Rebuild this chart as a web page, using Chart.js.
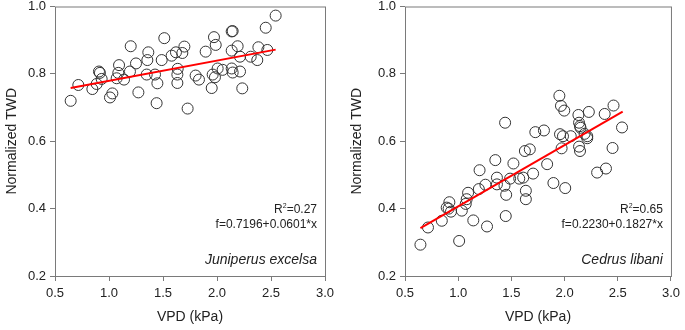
<!DOCTYPE html>
<html>
<head>
<meta charset="utf-8">
<script src="https://cdn.jsdelivr.net/npm/chart.js@4.4.1/dist/chart.umd.min.js"></script>
<style>
  body { margin: 0; background: #fff; }
  .panel { position: absolute; top: 0; height: 330px; }
  #left-panel { left: 0; width: 345px; }
  #right-panel { left: 345px; width: 340px; }
</style>
</head>
<body>
<div class="panel" id="left-panel"><canvas id="juniperus-chart"></canvas></div>
<div class="panel" id="right-panel"><canvas id="cedrus-chart"></canvas></div>
<script>
// axis ticks
const xTicks = [0.5, 1.0, 1.5, 2.0, 2.5, 3.0];
const yTicks = [0.2, 0.4, 0.6, 0.8, 1.0];

// Juniperus excelsa (VPD kPa, normalized TWD)
const juniperusVpd = [0.645, 0.716, 0.846, 0.886, 0.907, 0.916, 0.932, 1.009, 1.031, 1.071, 1.086, 1.093, 1.139, 1.194, 1.201, 1.250, 1.272, 1.355, 1.364, 1.349, 1.426, 1.448, 1.441, 1.488, 1.512, 1.580, 1.620, 1.636, 1.633, 1.633, 1.679, 1.698, 1.728, 1.802, 1.833, 1.895, 1.951, 1.960, 1.972, 1.988, 1.981, 2.006, 2.052, 2.136, 2.145, 2.136, 2.136, 2.145, 2.191, 2.213, 2.213, 2.234, 2.312, 2.373, 2.383, 2.451, 2.466, 2.543];
const juniperusTwd = [0.720, 0.767, 0.755, 0.770, 0.807, 0.803, 0.785, 0.730, 0.742, 0.787, 0.803, 0.826, 0.783, 0.807, 0.882, 0.831, 0.745, 0.841, 0.864, 0.798, 0.798, 0.772, 0.713, 0.841, 0.906, 0.854, 0.864, 0.815, 0.798, 0.773, 0.862, 0.881, 0.697, 0.795, 0.783, 0.866, 0.758, 0.798, 0.909, 0.886, 0.790, 0.816, 0.812, 0.926, 0.927, 0.869, 0.816, 0.804, 0.882, 0.807, 0.851, 0.757, 0.851, 0.841, 0.879, 0.937, 0.871, 0.973];
const juniperusFitX = [0.645, 2.543];
const juniperusFitY = [0.758, 0.872];

// Cedrus libani
const cedrusVpd = [0.645, 0.716, 0.846, 0.892, 0.917, 0.910, 0.932, 1.009, 1.034, 1.071, 1.080, 1.093, 1.142, 1.194, 1.201, 1.256, 1.271, 1.349, 1.364, 1.364, 1.435, 1.451, 1.447, 1.441, 1.488, 1.519, 1.574, 1.611, 1.627, 1.673, 1.636, 1.636, 1.704, 1.725, 1.806, 1.836, 1.895, 1.951, 1.966, 1.997, 1.957, 1.985, 1.972, 2.006, 2.058, 2.130, 2.136, 2.145, 2.150, 2.188, 2.213, 2.213, 2.136, 2.145, 2.228, 2.306, 2.389, 2.377, 2.460, 2.451, 2.540];
const cedrusTwd = [0.293, 0.344, 0.364, 0.403, 0.419, 0.400, 0.391, 0.304, 0.394, 0.414, 0.428, 0.447, 0.365, 0.458, 0.514, 0.471, 0.347, 0.544, 0.492, 0.472, 0.468, 0.441, 0.378, 0.655, 0.489, 0.534, 0.489, 0.492, 0.571, 0.576, 0.453, 0.428, 0.504, 0.627, 0.632, 0.532, 0.476, 0.735, 0.705, 0.691, 0.621, 0.615, 0.579, 0.461, 0.615, 0.678, 0.655, 0.645, 0.640, 0.622, 0.615, 0.609, 0.584, 0.571, 0.687, 0.507, 0.519, 0.681, 0.706, 0.580, 0.641];
const cedrusFitX = [0.645, 2.546];
const cedrusFitY = [0.342, 0.688];

const frameColor = "#7a7a7a";
const textColor = "#222";
const fontFamily = "'Liberation Sans', Arial, sans-serif";

const framePlugin = {
  id: "frame",
  afterDraw(chart) {
    const { ctx, chartArea } = chart;
    ctx.save();
    ctx.strokeStyle = frameColor;
    ctx.lineWidth = 1;
    ctx.strokeRect(chartArea.left + 0.5, chartArea.top + 0.5, chartArea.right - chartArea.left, chartArea.bottom - chartArea.top);
    ctx.restore();
  },
};

const notePlugin = {
  id: "notes",
  afterDraw(chart, args, opts) {
    const { ctx, chartArea } = chart;
    const right = chartArea.right - 8;
    const bottom = chartArea.bottom;
    ctx.save();
    ctx.fillStyle = textColor;
    ctx.textAlign = "right";
    ctx.textBaseline = "alphabetic";
    // R^2 with a small superscript
    ctx.font = `12px ${fontFamily}`;
    const rest = "=" + opts.r2;
    const restW = ctx.measureText(rest).width;
    ctx.fillText(rest, right, bottom - 63);
    ctx.font = `7px ${fontFamily}`;
    const supW = ctx.measureText("2").width;
    ctx.fillText("2", right - restW, bottom - 68);
    ctx.font = `12px ${fontFamily}`;
    ctx.fillText("R", right - restW - supW, bottom - 63);
    ctx.fillText(opts.fit, right, bottom - 48);
    ctx.font = `italic 14px ${fontFamily}`;
    ctx.fillText(opts.species, right, bottom - 12);
    ctx.restore();
  },
};

function makeChart(canvasId, vpd, twd, fitX, fitY, notes, leftWidth, rightPad) {
  const ctx = document.getElementById(canvasId).getContext("2d");
  return new Chart(ctx, {
    type: "scatter",
    plugins: [framePlugin, notePlugin],
    data: {
      datasets: [
        {
          label: "data",
          data: vpd.map((v, i) => ({ x: v, y: twd[i] })),
          pointStyle: "circle",
          pointRadius: 5.5,
          pointBorderWidth: 1,
          pointBorderColor: "#333",
          pointBackgroundColor: "rgba(0,0,0,0)",
          showLine: false,
          order: 2,
        },
        {
          label: "fit",
          type: "line",
          data: fitX.map((v, i) => ({ x: v, y: fitY[i] })),
          borderColor: "#ff0000",
          borderWidth: 2,
          pointRadius: 0,
          order: 1,
        },
      ],
    },
    options: {
      responsive: true,
      maintainAspectRatio: false,
      animation: false,
      layout: { padding: { top: -4, right: rightPad, bottom: 0, left: 0 } },
      plugins: {
        legend: { display: false },
        tooltip: { enabled: false },
        notes: notes,
      },
      scales: {
        x: {
          type: "linear",
          min: 0.5,
          max: 3.0,
          afterBuildTicks: (scale) => {
            scale.ticks = xTicks.map((v) => ({ value: v }));
          },
          afterFit: (scale) => {
            scale.height = 54;
          },
          grid: {
            display: true,
            drawOnChartArea: false,
            drawTicks: true,
            tickLength: 5,
            color: frameColor,
          },
          border: { display: false },
          ticks: {
            color: textColor,
            padding: 5,
            maxRotation: 0,
            font: { size: 13, family: fontFamily },
            callback: (v) => Number(v).toFixed(1),
          },
          title: {
            display: true,
            text: "VPD (kPa)",
            color: textColor,
            padding: { top: 7 },
            font: { size: 14, family: fontFamily },
          },
        },
        y: {
          type: "linear",
          min: 0.2,
          max: 1.0,
          afterBuildTicks: (scale) => {
            scale.ticks = yTicks.map((v) => ({ value: v }));
          },
          afterFit: (scale) => {
            scale.width = leftWidth;
            scale.paddingTop = 0;
          },
          grid: {
            display: true,
            drawOnChartArea: false,
            drawTicks: true,
            tickLength: 5,
            color: frameColor,
          },
          border: { display: false },
          ticks: {
            color: textColor,
            padding: 4,
            font: { size: 13, family: fontFamily },
            callback: (v) => Number(v).toFixed(1),
          },
          title: {
            display: true,
            text: "Normalized TWD",
            color: textColor,
            padding: { bottom: 4 },
            font: { size: 14, family: fontFamily },
          },
        },
      },
    },
  });
}

makeChart("juniperus-chart", juniperusVpd, juniperusTwd, juniperusFitX, juniperusFitY,
  { r2: "0.27", fit: "f=0.7196+0.0601*x", species: "Juniperus excelsa" }, 55, 20);
makeChart("cedrus-chart", cedrusVpd, cedrusTwd, cedrusFitX, cedrusFitY,
  { r2: "0.65", fit: "f=0.2230+0.1827*x", species: "Cedrus libani" }, 60, 10);
</script>
</body>
</html>
